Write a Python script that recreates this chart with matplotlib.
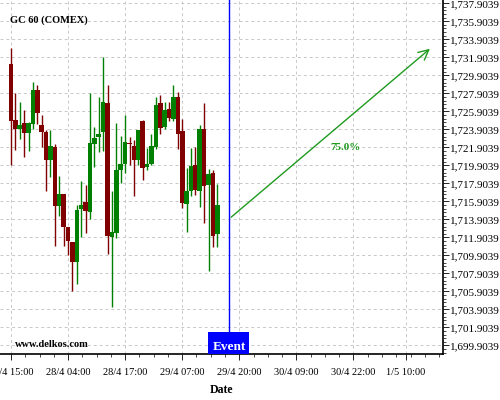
import numpy as np
import matplotlib
matplotlib.use('Agg')
import matplotlib.pyplot as plt
from matplotlib.patches import Rectangle
from matplotlib.ticker import MultipleLocator, AutoMinorLocator, FixedLocator

plt.rcParams['font.family'] = 'Liberation Serif'

# hourly candles, 27/4 15:00 -> 29/4 14:00
opens = [1731.16, 1724.94, 1723.94, 1724.60, 1723.53, 1724.46, 1728.27, 1724.38,
         1723.60, 1720.53, 1721.94, 1715.41, 1716.71, 1713.05, 1711.38, 1709.19,
         1715.08, 1715.83, 1714.75, 1722.30, 1723.08, 1723.60, 1726.86, 1711.97,
         1712.41, 1719.38, 1720.01, 1722.27, 1722.05, 1720.46, 1724.83, 1719.75,
         1720.05, 1721.94, 1726.86, 1724.16, 1726.16, 1725.08, 1727.49, 1723.71,
         1715.64, 1717.01, 1719.90, 1717.08, 1723.97, 1717.72, 1719.01, 1712.30]
highs = [1732.90, 1727.90, 1726.90, 1726.01, 1724.75, 1729.12, 1728.83, 1725.46,
         1723.83, 1723.79, 1722.30, 1718.71, 1716.71, 1713.05, 1711.38, 1715.46,
         1718.19, 1717.68, 1727.90, 1724.13, 1727.46, 1731.90, 1728.83, 1717.01,
         1724.57, 1723.16, 1725.46, 1723.01, 1722.72, 1723.83, 1724.94, 1721.79,
         1723.35, 1727.49, 1727.68, 1726.94, 1726.94, 1728.83, 1728.02, 1725.01,
         1719.57, 1721.79, 1721.90, 1724.38, 1726.79, 1719.49, 1719.35, 1717.86]
lows = [1719.94, 1721.60, 1722.79, 1720.79, 1721.49, 1723.90, 1724.49, 1721.90,
        1717.01, 1718.57, 1710.97, 1714.27, 1710.97, 1709.97, 1705.97, 1706.68,
        1711.97, 1712.35, 1713.97, 1719.75, 1721.42, 1721.49, 1710.05, 1704.13,
        1711.79, 1717.97, 1719.01, 1719.94, 1716.49, 1719.90, 1718.27, 1719.38,
        1719.90, 1721.75, 1723.35, 1723.97, 1724.86, 1724.86, 1721.68, 1715.16,
        1712.46, 1716.46, 1716.57, 1715.24, 1713.46, 1708.13, 1710.86, 1710.79]
closes = [1724.86, 1723.94, 1724.35, 1723.53, 1724.60, 1728.27, 1725.75, 1723.64,
          1720.53, 1722.01, 1715.41, 1716.71, 1713.08, 1711.53, 1709.13, 1714.94,
          1715.53, 1714.86, 1722.38, 1722.94, 1723.38, 1726.94, 1712.05, 1712.49,
          1719.38, 1720.05, 1722.49, 1722.16, 1720.53, 1723.83, 1719.64, 1720.05,
          1722.01, 1726.60, 1724.08, 1726.05, 1725.19, 1727.49, 1723.42, 1715.75,
          1717.01, 1719.83, 1717.13, 1723.97, 1717.60, 1718.94, 1712.08, 1715.49]

tick_labels = ['27/4 15:00', '28/4 04:00', '28/4 17:00', '29/4 07:00',
               '29/4 20:00', '30/4 09:00', '30/4 22:00', '1/5 10:00']
tick_pos = [0, 13, 26, 39, 52, 65, 78, 90]
y_ticks = np.arange(1699.9039, 1738.0, 2.0)

event_x = 49.66
arrow_start = (event_x, 1713.94)
arrow_end = (95.9, 1733.05)
pct_label = '75.0%'

red = '#800000'
green = '#008000'
arrow_green = '#1f9a1f'

fig = plt.figure(figsize=(5, 4), dpi=100)
ax = fig.add_axes([0.0, 0.115, 0.886, 0.885])

idx = np.arange(len(opens))
o = np.array(opens)
c = np.array(closes)
cols = [green if c[i] >= o[i] else red for i in idx]
cols[27] = red

ax.vlines(idx, lows, highs, colors=cols, lw=1.0, zorder=3)
body = np.where(np.abs(c - o) < 0.12, 0.12, c - o)
ax.bar(idx, body, bottom=o, width=1.05, color=cols, edgecolor='none', zorder=4)

ax.set_xlim(-2.5, 98.4)
ax.set_ylim(1698.94, 1738.27)

# y axis on right
ax.yaxis.tick_right()
ax.yaxis.set_major_locator(FixedLocator(y_ticks))
ax.yaxis.set_minor_locator(AutoMinorLocator(5))
ax.set_yticklabels(['{:,.4f}'.format(v) for v in y_ticks], fontsize=8)
ax.tick_params(axis='y', which='major', length=4, width=0.6, pad=1)
ax.tick_params(axis='y', which='minor', length=2, width=0.5)

ax.xaxis.set_major_locator(FixedLocator(tick_pos))
ax.set_xticklabels(tick_labels, fontsize=7.5)
ax.xaxis.set_minor_locator(MultipleLocator(13 / 4))
ax.tick_params(axis='x', which='major', length=4, width=0.6, pad=6)
ax.tick_params(axis='x', which='minor', length=2, width=0.5)

for s in ['left', 'top']:
    ax.spines[s].set_visible(False)
ax.spines['right'].set_linewidth(1.2)
ax.spines['bottom'].set_linewidth(1.2)

ax.grid(True, which='major', color='#c8c8c8', ls=(0, (3, 3)), lw=0.7, zorder=0)

# event marker
ax.axvline(event_x, color='#0000ff', lw=1.0, zorder=5)
xt = ax.get_xaxis_transform()
ax.add_patch(Rectangle((44.8, 0.0), 9.4, 0.061, transform=xt, fc='#0000ff', ec='none',
                       zorder=6, clip_on=False))
ax.text(event_x, 0.021, 'Event', transform=xt, ha='center', va='center',
        color='white', fontsize=9.5, fontweight='bold', zorder=7)

ax.annotate('', xy=arrow_end, xytext=arrow_start,
            arrowprops=dict(arrowstyle='->', color=arrow_green, lw=1.0, mutation_scale=18), zorder=6)
ax.text(76.1, 1721.83, pct_label, color=arrow_green, fontsize=8, fontweight='bold',
        ha='center', va='center')

ax.text(0.023, 0.944, 'GC 60 (COMEX)', transform=ax.transAxes, fontsize=7.5, fontweight='bold',
        ha='left', va='center')
ax.text(0.034, 0.015, 'www.delkos.com', transform=ax.transAxes, fontsize=7.5, fontweight='bold',
        ha='left', va='bottom')
ax.set_xlabel('Date', fontsize=8.5, fontweight='bold')
ax.xaxis.set_label_coords(221 / 443, -0.085)

fig.savefig('out.png', dpi=100)
